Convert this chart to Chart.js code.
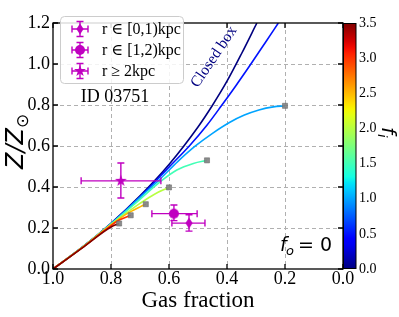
<!DOCTYPE html>
<html>
<head>
<meta charset="utf-8">
<script src="https://cdn.jsdelivr.net/npm/chart.js@4.4.1/dist/chart.umd.min.js"></script>
<style>
  html, body { margin: 0; padding: 0; background: #fff; }
  #wrap { width: 399px; height: 317px; }
</style>
</head>
<body>
<div id="wrap"><canvas id="c" width="399" height="317"></canvas></div>
<script>
// model tracks: gas fraction (x) vs Z/Zsun (y), one pair of arrays per inflow f_i
const fiValues = [0, 0.5, 1, 1.5, 2, 2.5, 3, 3.5];
const gas_f0  = [1.0, 0.9, 0.8, 0.7, 0.6, 0.5, 0.45, 0.4, 0.35, 0.297];
const z_f0    = [0, 0.105, 0.223, 0.357, 0.51, 0.693, 0.799, 0.916, 1.05, 1.2];
const gas_f05 = [1.0, 0.9, 0.8, 0.7, 0.6, 0.53, 0.47, 0.42, 0.37, 0.32, 0.27, 0.223];
const z_f05   = [0, 0.105, 0.222, 0.352, 0.497, 0.60, 0.70, 0.795, 0.893, 0.995, 1.10, 1.2];
const gas_f1  = [1.0, 0.9, 0.8, 0.7, 0.63, 0.57, 0.51, 0.45, 0.39, 0.34, 0.29, 0.24, 0.2];
const z_f1    = [0, 0.105, 0.22, 0.35, 0.44, 0.524, 0.599, 0.662, 0.716, 0.751, 0.776, 0.791, 0.796];
const gas_f15 = [1.0, 0.9, 0.8, 0.7, 0.631, 0.573, 0.516, 0.469];
const z_f15   = [0, 0.105, 0.22, 0.34, 0.425, 0.483, 0.515, 0.53];
const gas_f2  = [1.0, 0.9, 0.8, 0.75, 0.7, 0.65, 0.6];
const z_f2    = [0, 0.104, 0.217, 0.27, 0.32, 0.365, 0.398];
const gas_f25 = [1.0, 0.9, 0.8, 0.75, 0.7, 0.68];
const z_f25   = [0, 0.104, 0.215, 0.265, 0.303, 0.316];
const gas_f3  = [1.0, 0.9, 0.8, 0.77, 0.732];
const z_f3    = [0, 0.103, 0.212, 0.24, 0.262];
const gas_f35 = [1.0, 0.9, 0.8, 0.772];
const z_f35   = [0, 0.102, 0.205, 0.222];
const gasTracks = [gas_f0, gas_f05, gas_f1, gas_f15, gas_f2, gas_f25, gas_f3, gas_f35];
const zTracks   = [z_f0, z_f05, z_f1, z_f15, z_f2, z_f25, z_f3, z_f35];

// observed rings of ID 03751
const obsLabels = ['r \u2208 [0,1)kpc', 'r \u2208 [1,2)kpc', 'r \u2265 2kpc'];
const obsGas   = [0.531, 0.583, 0.766];
const obsGasLo = [0.476, 0.503, 0.628];
const obsGasHi = [0.590, 0.659, 0.903];
const obsZ     = [0.224, 0.270, 0.430];
const obsZLo   = [0.185, 0.236, 0.346];
const obsZHi   = [0.265, 0.312, 0.517];
const obsShapes = ['diamond', 'circle', 'star'];

const xTicks = [1.0, 0.8, 0.6, 0.4, 0.2, 0.0];
const yTicks = [0.0, 0.2, 0.4, 0.6, 0.8, 1.0, 1.2];
const cbMax = 3.5;

const MAG = '#c000c0';
const SERIF = "'Liberation Serif', 'DejaVu Serif', serif";
const SANS = "'DejaVu Sans', sans-serif";

// matplotlib jet
function jet(t) {
  const seg = (pts) => {
    for (let i = 1; i < pts.length; i++) {
      if (t <= pts[i][0]) {
        const [x0, y0] = pts[i - 1], [x1, y1] = pts[i];
        return y0 + (y1 - y0) * (t - x0) / (x1 - x0);
      }
    }
    return pts[pts.length - 1][1];
  };
  const r = seg([[0, 0], [0.35, 0], [0.66, 1], [0.89, 1], [1, 0.5]]);
  const g = seg([[0, 0], [0.125, 0], [0.375, 1], [0.64, 1], [0.91, 0], [1, 0]]);
  const b = seg([[0, 0.5], [0.11, 1], [0.34, 1], [0.65, 0], [1, 0]]);
  return `rgb(${Math.round(r * 255)},${Math.round(g * 255)},${Math.round(b * 255)})`;
}

function drawShape(g, kind, cx, cy, s) {
  g.beginPath();
  if (kind === 'circle') {
    g.arc(cx, cy, s, 0, Math.PI * 2);
  } else if (kind === 'diamond') {
    g.moveTo(cx, cy - s * 1.1); g.lineTo(cx + s * 0.72, cy);
    g.lineTo(cx, cy + s * 1.1); g.lineTo(cx - s * 0.72, cy);
    g.closePath();
  } else {
    for (let k = 0; k < 10; k++) {
      const r = k % 2 ? s * 0.48 : s * 1.25;
      const a = -Math.PI / 2 + k * Math.PI / 5;
      g.lineTo(cx + r * Math.cos(a), cy + r * Math.sin(a));
    }
    g.closePath();
  }
  g.fillStyle = MAG;
  g.fill();
}

function markerCanvas(kind) {
  const c = document.createElement('canvas');
  c.width = 18; c.height = 18;
  drawShape(c.getContext('2d'), kind, 9, 9, 5);
  return c;
}

function errBar(ctx, x0, y0, x1, y1, horiz) {
  const cap = 3.5;
  ctx.beginPath();
  ctx.moveTo(x0, y0); ctx.lineTo(x1, y1);
  if (horiz) {
    ctx.moveTo(x0, y0 - cap); ctx.lineTo(x0, y0 + cap);
    ctx.moveTo(x1, y1 - cap); ctx.lineTo(x1, y1 + cap);
  } else {
    ctx.moveTo(x0 - cap, y0); ctx.lineTo(x0 + cap, y0);
    ctx.moveTo(x1 - cap, y1); ctx.lineTo(x1 + cap, y1);
  }
  ctx.stroke();
}

const datasets = [];
gasTracks.forEach((gx, i) => {
  datasets.push({
    data: gx.map((v, k) => ({ x: v, y: zTracks[i][k] })),
    showLine: true, pointRadius: 0, borderWidth: 1.6,
    borderColor: jet(fiValues[i] / cbMax), cubicInterpolationMode: 'monotone',
    order: 20 - i
  });
});
// end-of-track squares (tracks that stop inside the frame)
const ends = [];
gasTracks.forEach((gx, i) => {
  const zy = zTracks[i][zTracks[i].length - 1];
  if (zy < 1.19) ends.push({ x: gx[gx.length - 1], y: zy });
});
datasets.push({
  data: ends, pointStyle: 'rect', pointRadius: 3.6,
  backgroundColor: 'rgba(128,128,128,0.9)', borderColor: 'rgba(100,100,100,0.9)', borderWidth: 0.6,
  order: 2
});
datasets.push({
  data: obsGas.map((v, k) => ({ x: v, y: obsZ[k] })),
  pointStyle: obsShapes.map(markerCanvas), pointRadius: 5,
  errorBars: true, order: 1
});

const decor = {
  id: 'decor',
  beforeDatasetsDraw(chart) {
    const { ctx, chartArea: a, scales } = chart;
    ctx.save();
    ctx.strokeStyle = '#b0b0b0';
    ctx.lineWidth = 1;
    ctx.setLineDash([4, 3]);
    xTicks.forEach(v => {
      const px = Math.round(scales.x.getPixelForValue(v)) + 0.5;
      if (px < a.left + 2 || px > a.right - 2) return;
      ctx.beginPath(); ctx.moveTo(px, a.top); ctx.lineTo(px, a.bottom); ctx.stroke();
    });
    yTicks.forEach(v => {
      const py = Math.round(scales.y.getPixelForValue(v)) + 0.5;
      if (py < a.top + 2 || py > a.bottom - 2) return;
      ctx.beginPath(); ctx.moveTo(a.left, py); ctx.lineTo(a.right, py); ctx.stroke();
    });
    ctx.restore();
    // clip tracks to the frame
    ctx.save();
    ctx.beginPath();
    ctx.rect(a.left, a.top, a.right - a.left, a.bottom - a.top);
    ctx.clip();
  },
  beforeDatasetDraw(chart, args) {
    const ds = chart.data.datasets[args.index];
    if (!ds.errorBars) return;
    const { ctx, scales } = chart;
    ctx.save();
    ctx.strokeStyle = MAG;
    ctx.lineWidth = 1.4;
    obsGas.forEach((v, k) => {
      const px = scales.x.getPixelForValue(v), py = scales.y.getPixelForValue(obsZ[k]);
      errBar(ctx, scales.x.getPixelForValue(obsGasLo[k]), py, scales.x.getPixelForValue(obsGasHi[k]), py, true);
      errBar(ctx, px, scales.y.getPixelForValue(obsZLo[k]), px, scales.y.getPixelForValue(obsZHi[k]), false);
    });
    ctx.restore();
  },
  afterDatasetsDraw(chart) {
    const { ctx, chartArea: a, scales } = chart;
    ctx.restore();
    ctx.save();
    // colorbar
    const cb = scales.cb;
    const grad = ctx.createLinearGradient(0, cb.getPixelForValue(0), 0, cb.getPixelForValue(cbMax));
    for (let s = 0; s <= 40; s++) grad.addColorStop(s / 40, jet(s / 40));
    ctx.fillStyle = grad;
    ctx.fillRect(a.right, a.top, 13, a.bottom - a.top);
    ctx.strokeStyle = '#000';
    ctx.lineWidth = 1;
    ctx.strokeRect(a.right + 0.5, a.top + 0.5, 12.5, a.bottom - a.top - 1);
    // frame
    ctx.lineWidth = 1.3;
    ctx.strokeRect(a.left, a.top, a.right - a.left, a.bottom - a.top);
    // inward ticks
    const tl = 5;
    xTicks.forEach(v => {
      const px = scales.x.getPixelForValue(v);
      ctx.beginPath();
      ctx.moveTo(px, a.bottom); ctx.lineTo(px, a.bottom - tl);
      ctx.moveTo(px, a.top); ctx.lineTo(px, a.top + tl);
      ctx.stroke();
    });
    yTicks.forEach(v => {
      const py = scales.y.getPixelForValue(v);
      ctx.beginPath();
      ctx.moveTo(a.left, py); ctx.lineTo(a.left + tl, py);
      ctx.moveTo(a.right, py); ctx.lineTo(a.right - tl, py);
      ctx.stroke();
    });
    // legend
    const lx = 60, ly = 16, lw = 123, lh = 67;
    ctx.fillStyle = 'rgba(255,255,255,0.85)';
    ctx.strokeStyle = '#cccccc';
    ctx.lineWidth = 1;
    ctx.beginPath();
    ctx.roundRect(lx + 0.5, ly + 0.5, lw, lh, 4);
    ctx.fill(); ctx.stroke();
    obsLabels.forEach((lab, k) => {
      const cy = 29 + k * 21, cx = 80;
      ctx.strokeStyle = MAG; ctx.lineWidth = 1.4;
      errBar(ctx, cx - 8, cy, cx + 8, cy, true);
      errBar(ctx, cx, cy - 7.5, cx, cy + 7.5, false);
      drawShape(ctx, obsShapes[k], cx, cy, 5);
      ctx.fillStyle = '#000';
      ctx.font = `16px ${SERIF}`;
      ctx.textAlign = 'left'; ctx.textBaseline = 'middle';
      ctx.fillText(lab, 102, cy + 1);
    });
    // annotations
    ctx.fillStyle = '#000';
    ctx.font = `18px ${SERIF}`;
    ctx.textAlign = 'center'; ctx.textBaseline = 'alphabetic';
    ctx.fillText('ID 03751', 115, 102);

    ctx.save();
    ctx.translate(214, 57);
    ctx.rotate(-56 * Math.PI / 180);
    ctx.fillStyle = '#000080';
    ctx.font = `15.5px ${SERIF}`;
    ctx.textAlign = 'center'; ctx.textBaseline = 'middle';
    ctx.fillText('Closed box', 0, 0);
    ctx.restore();

    // f_o = 0
    ctx.fillStyle = '#000';
    ctx.textAlign = 'left'; ctx.textBaseline = 'alphabetic';
    ctx.font = `italic 19px ${SANS}`;
    ctx.fillText('f', 280, 251);
    ctx.font = `italic 13px ${SANS}`;
    ctx.fillText('o', 286, 255);
    ctx.font = `19px ${SANS}`;
    ctx.fillText('= 0', 298, 251);

    // axis titles
    ctx.font = `23px ${SERIF}`;
    ctx.textAlign = 'center';
    ctx.fillText('Gas fraction', (a.left + a.right) / 2, 307);

    ctx.save();
    ctx.translate(23, 169);
    ctx.rotate(-Math.PI / 2);
    ctx.textAlign = 'left';
    ctx.font = `italic 24px ${SANS}`;
    ctx.fillText('Z/Z', 0, 0);
    const w = ctx.measureText('Z/Z').width;
    ctx.font = `17px ${SANS}`;
    ctx.fillText('\u2299', w, 5);
    ctx.restore();

    ctx.save();
    ctx.translate(382, 127);
    ctx.rotate(Math.PI / 2);
    ctx.textAlign = 'left';
    ctx.font = `italic 20px ${SANS}`;
    ctx.fillText('f', 0, 0);
    ctx.font = `italic 13px ${SANS}`;
    ctx.fillText('i', 7, 4);
    ctx.restore();

    ctx.restore();
  }
};

const tickFont = (size) => ({ family: SERIF, size, lineHeight: 1 });

new Chart(document.getElementById('c'), {
  type: 'scatter',
  data: { datasets },
  options: {
    responsive: false,
    animation: false,
    devicePixelRatio: 1,
    layout: { padding: { top: 10, left: 0, right: 0, bottom: 0 } },
    plugins: { legend: { display: false }, tooltip: { enabled: false } },
    scales: {
      x: {
        type: 'linear', reverse: true, min: 0, max: 1,
        ticks: { stepSize: 0.2, autoSkip: false, maxRotation: 0, padding: 1, color: '#000',
                 font: tickFont(18), callback: v => v.toFixed(1) },
        grid: { display: false, drawTicks: false }, border: { display: false },
        afterFit: s => { s.height = 48; }
      },
      y: {
        type: 'linear', min: 0, max: 1.2,
        ticks: { stepSize: 0.2, autoSkip: false, padding: 3, color: '#000',
                 font: tickFont(18), callback: v => v.toFixed(1) },
        grid: { display: false, drawTicks: false }, border: { display: false },
        afterFit: s => { s.width = 53; }
      },
      cb: {
        type: 'linear', position: 'right', min: 0, max: cbMax,
        ticks: { stepSize: 0.5, autoSkip: false, padding: 16, color: '#000',
                 font: tickFont(14), callback: v => v.toFixed(1) },
        grid: { display: false, drawTicks: false }, border: { display: false },
        afterFit: s => { s.width = 56; }
      }
    }
  },
  plugins: [decor]
});
</script>
</body>
</html>
